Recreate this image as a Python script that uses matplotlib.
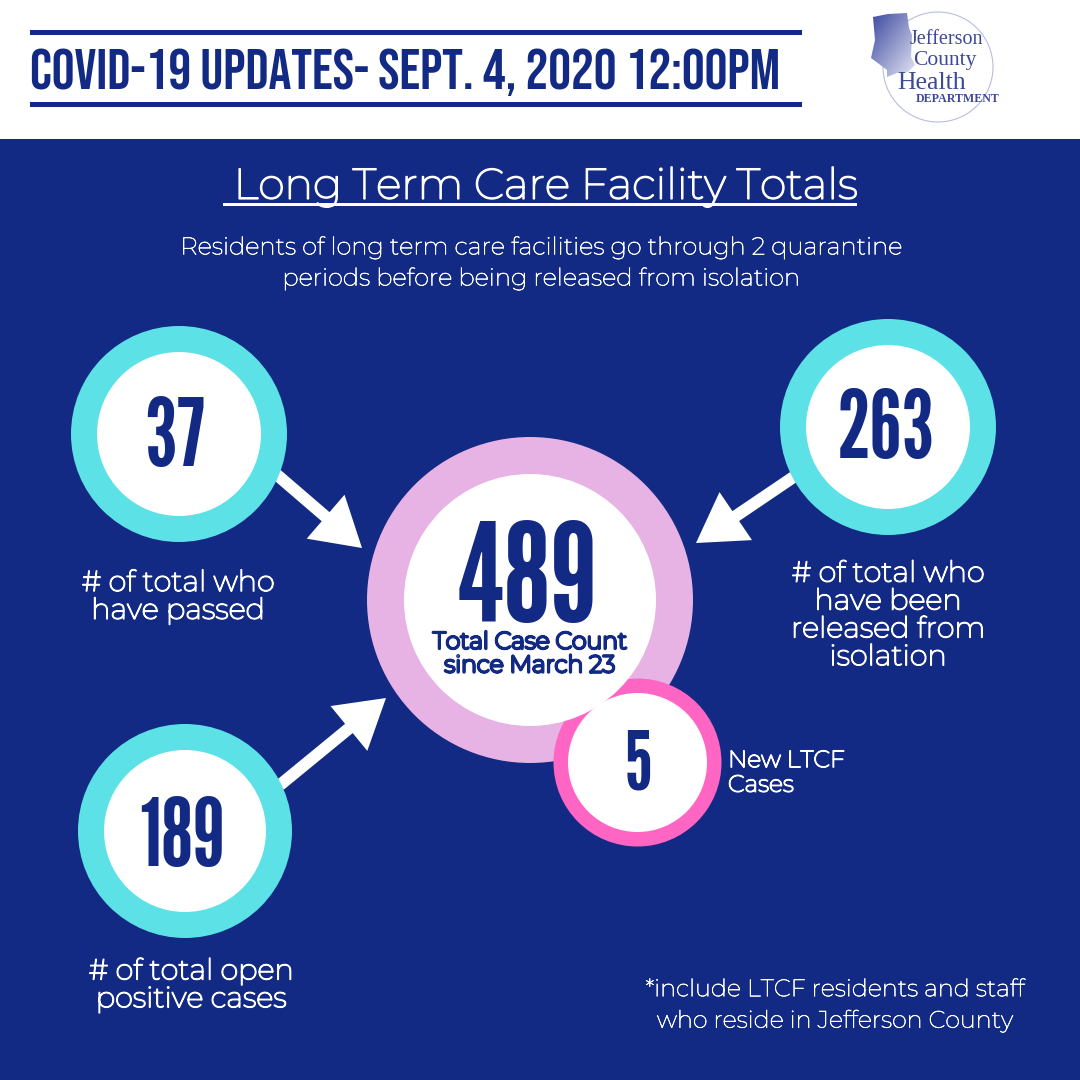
#!/usr/bin/env python3
import matplotlib
matplotlib.use("Agg")
import matplotlib.pyplot as plt
import matplotlib.patheffects as pe
import numpy as np
from matplotlib.colors import LinearSegmentedColormap
from matplotlib.patches import Circle, Rectangle, Polygon, FancyArrow

NAVY = "#132a84"
TEAL = "#5ce1e6"
PINK = "#ff66c4"
LILAC = "#e7b2e4"
LOGO = "#3d4a98"

# Fonts, first one found is used
NARROW = ["League Gothic", "Bebas Neue", "Oswald", "DejaVu Sans"]
TITLE_FONT = ["Bebas Neue", "League Gothic", "Oswald", "DejaVu Sans"]
BODY = ["Montserrat", "Open Sans", "DejaVu Sans"]
SERIF = ["Liberation Serif", "DejaVu Serif"]

# Values
case_labels = ["37", "263", "189"]
case_captions = ["# of total who\nhave passed",
                 "# of total who\nhave been\nreleased from\nisolation",
                 "# of total open\npositive cases"]
total_cases = "489"
total_caption = "Total Case Count\nsince March 23"
new_cases = "5"
new_caption = "New LTCF\nCases"

title = "COVID-19 UPDATES- SEPT. 4, 2020 12:00PM"
heading = " Long Term Care Facility Totals"
subheading = "Residents of long term care facilities go through 2 quarantine\nperiods before being released from isolation"
footnote = "*include LTCF residents and staff\nwho reside in Jefferson County"

fig = plt.figure(figsize=(10.8, 10.8), dpi=100)
ax = fig.add_axes([0, 0, 1, 1])

# Bands
ax.add_patch(Rectangle((0, 0), 1080, 139, color="white", lw=0))
ax.add_patch(Rectangle((0, 139), 1080, 941, color=NAVY, lw=0))
ax.add_patch(Rectangle((30, 30), 772, 5, color=NAVY, lw=0))
ax.add_patch(Rectangle((30, 102), 772, 5, color=NAVY, lw=0))

ax.text(30, 89, title, color=NAVY, fontsize=41, family=TITLE_FONT, va="baseline", ha="left")

# Logo
ax.add_patch(Circle((938, 67), 55, fc="none", ec="#b9bde0", lw=0.8, zorder=2))
county = Polygon([(873, 17), (888, 14), (907, 13), (909, 28), (912, 35), (911, 57), (915, 65),
                  (908, 72), (897, 73), (887, 77), (887, 70), (871, 58), (875, 40)],
                 fc="none", ec="none", transform=ax.transData)
ax.add_patch(county)
fade = LinearSegmentedColormap.from_list("fade", ["#3a479f", "#e6e8f5"])
grid = np.linspace(0, 1, 64)
im = ax.imshow(np.add.outer(grid, grid) / 2, cmap=fade, extent=(870, 916, 78, 13), aspect="auto", zorder=2)
im.set_clip_path(county)
ax.text(910, 40, "Jefferson", color=LOGO, fontsize=14.5, family=SERIF, va="center", ha="left", zorder=3)
ax.text(913, 60, "County", color=LOGO, fontsize=15.5, family=SERIF, va="center", ha="left", zorder=3)
ax.text(897, 89, "Health", color=LOGO, fontsize=18.5, family=SERIF, va="baseline", ha="left", zorder=3)
ax.text(916, 99, "DEPARTMENT", color=LOGO, fontsize=8.6, family=SERIF, weight="bold",
        va="center", ha="left", zorder=3)

ax.set_xlim(0, 1080)
ax.set_ylim(1080, 0)
ax.axis("off")


# Montserrat is installed in its thin cut only, the stroke brings back the weight
def body_text(x, y, s, size, stroke, color="white", spacing=1.04, ha="center", zorder=5):
    t = ax.text(x, y, s, color=color, fontsize=size, family=BODY, ha=ha, va="center",
                linespacing=spacing, zorder=zorder)
    t.set_path_effects([pe.withStroke(linewidth=stroke, foreground=color)])
    return t


# Heading
body_text(540, 187, heading, 30.8, 1.2)
ax.add_patch(Rectangle((223, 203), 634, 2.5, color="white", lw=0))
body_text(540, 263.5, subheading, 17.4, 0.45, spacing=1.45)


def ring(x, y, r_out, r_in, color):
    ax.add_patch(Circle((x, y), r_out, fc=color, ec="none", zorder=3))
    ax.add_patch(Circle((x, y), r_in, fc="white", ec="none", zorder=4))


def arrow(x0, y0, x1, y1):
    ax.add_patch(FancyArrow(x0, y0, x1 - x0, y1 - y0, width=12, head_width=58, head_length=48,
                            length_includes_head=True, fc="white", ec="none", zorder=2))


arrow(276, 474, 362, 548)
arrow(795, 476, 696, 543)
arrow(280, 785, 386, 698)

ring(179, 434, 108, 82, TEAL)
ring(888, 427, 108, 82, TEAL)
ring(185, 831, 107, 81, TEAL)
ring(530, 600, 163, 126, LILAC)
ring(637.5, 762.5, 84, 69.5, PINK)

num = dict(color=NAVY, family=NARROW, ha="center", va="baseline", zorder=5)
ax.text(175, 466, case_labels[0], fontsize=67, **num)
ax.text(885.5, 458, case_labels[1], fontsize=67, **num)
ax.text(182, 866, case_labels[2], fontsize=67, **num)
ax.text(527, 622, total_cases, fontsize=98, **num)
ax.text(638, 790, new_cases, fontsize=58, **num)

body_text(530, 654, total_caption, 17, 2.0, color=NAVY, spacing=1.03)

body_text(178, 597.5, case_captions[0], 20.8, 1.0)
body_text(888, 616, case_captions[1], 20.8, 1.0)
body_text(191, 985.5, case_captions[2], 20.8, 1.0)
body_text(728, 773, new_caption, 17, 1.0, ha="left", spacing=1.09)
body_text(835, 1005.5, footnote, 17.2, 0.45, spacing=1.47)

fig.savefig("out.png", dpi=100, facecolor="white")
